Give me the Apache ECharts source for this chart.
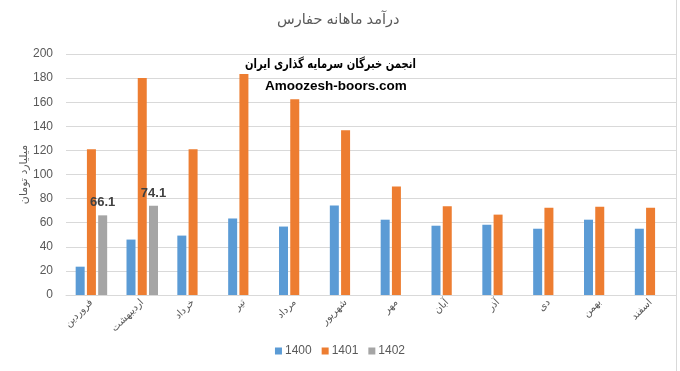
<!DOCTYPE html>
<html><head><meta charset="utf-8">
<script src="https://cdn.jsdelivr.net/npm/echarts@6/dist/echarts.min.js"></script>
<style>html,body{margin:0;padding:0;background:#fff}#c{width:680px;height:371px}</style>
</head><body><div id="c"></div>
<script>
const months = ['فروردین','اردیبهشت','خرداد','تیر','مرداد','شهریور','مهر','آبان','آذر','دی','بهمن','اسفند'];
const s1400 = [23.5, 46, 49.3, 63.5, 56.8, 74.2, 62.5, 57.5, 58.3, 55, 62.5, 55];
const s1401 = [121, 180, 121, 183.5, 162.5, 136.7, 90, 73.6, 66.7, 72.5, 73.3, 72.5];
const s1402 = [66.1, 74.1, null, null, null, null, null, null, null, null, null, null];
const yTicks = {min: 0, max: 200, interval: 20};
const FONT = 'Liberation Sans, DejaVu Sans, sans-serif';
const chart = echarts.init(document.getElementById('c'));
chart.setOption({
  animation: false,
  textStyle: {fontFamily: FONT},
  title: {text: 'درآمد ماهانه حفارس', left: 272, top: 7,
    textStyle: {fontSize: 14.5, fontWeight: 'normal', color: '#595959', fontFamily: FONT}},
  grid: {left: 66, right: 4, top: 54, bottom: 76, containLabel: false},
  legend: {bottom: 9, left: 'center', itemWidth: 7, itemHeight: 7, itemGap: 10, icon: 'rect',
    textStyle: {fontSize: 12, color: '#595959', fontFamily: FONT, padding: [0,0,0,-2]}},
  xAxis: {type: 'category', data: months,
    axisLine: {lineStyle: {color: '#d9d9d9'}}, axisTick: {show: false},
    axisLabel: {interval: 0, rotate: 45, fontSize: 10, color: '#595959', margin: 6, fontFamily: 'DejaVu Sans'}},
  yAxis: {type: 'value', min: yTicks.min, max: yTicks.max, interval: yTicks.interval,
    name: 'میلیارد تومان', nameLocation: 'middle', nameGap: 36, nameRotate: 90, nameMoveOverlap: false,
    nameTextStyle: {fontSize: 11, color: '#595959', fontFamily: 'DejaVu Sans'},
    axisLine: {show: false}, axisTick: {show: false},
    axisLabel: {fontSize: 12, color: '#595959', margin: 13},
    splitLine: {lineStyle: {color: '#d9d9d9'}}},
  series: [
    {name: '1400', type: 'bar', data: s1400, barWidth: 9, barGap: '25%', itemStyle: {color: '#5B9BD5'}},
    {name: '1401', type: 'bar', data: s1401, barWidth: 9, barGap: '25%', itemStyle: {color: '#ED7D31'}},
    {name: '1402', type: 'bar', data: s1402, barWidth: 9, barGap: '25%', itemStyle: {color: '#A5A5A5'},
      label: {show: true, position: 'top', distance: 6, fontSize: 13, fontWeight: 'bold', color: '#404040'}}
  ],
  graphic: [
    {type: 'text', x: 245, y: 58, scaleX: 0.77, z: 100, style: {text: 'انجمن خبرگان سرمایه گذاری ایران', fontSize: 13, fontWeight: 'bold', fill: '#000', fontFamily: 'DejaVu Sans'}},
    {type: 'text', left: 265, top: 79, z: 100, style: {text: 'Amoozesh-boors.com', fontSize: 13.5, fontWeight: 'bold', fill: '#000', fontFamily: 'Liberation Sans'}},
    {type: 'line', shape: {x1: 676.5, y1: 0, x2: 676.5, y2: 371}, style: {stroke: '#d9d9d9', lineWidth: 1}}
  ]
});
</script></body></html>
